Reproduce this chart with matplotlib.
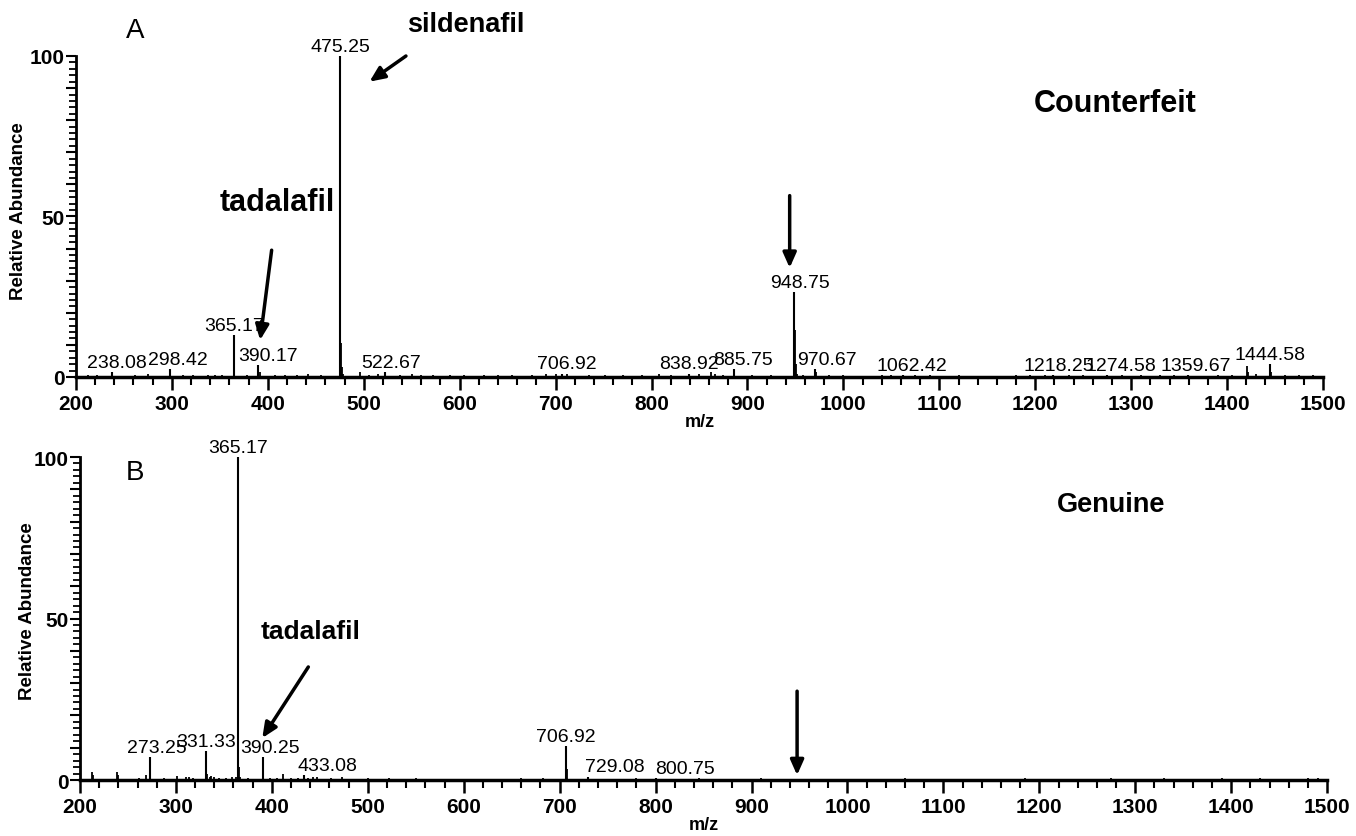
import numpy as np
import matplotlib
matplotlib.use("Agg")
import matplotlib.pyplot as plt
from matplotlib.ticker import MultipleLocator, FuncFormatter

plt.rcParams['font.family'] = ['Liberation Sans', 'DejaVu Sans']

# panel A (counterfeit): labelled peaks
a_mz = [238.08, 298.42, 365.17, 390.17, 475.25, 522.67, 706.92, 838.92, 885.75,
        948.75, 970.67, 1062.42, 1218.25, 1274.58, 1359.67, 1444.58]
a_int = [1.5, 2.5, 13.0, 3.7, 100.0, 1.5, 1.0, 1.0, 2.5,
         26.5, 2.5, 0.5, 0.5, 0.5, 0.5, 4.0]
a_labels = ["238.08", "298.42", "365.17", "390.17", "475.25", "522.67", "706.92", "838.92",
            "885.75", "948.75", "970.67", "1062.42", "1218.25", "1274.58", "1359.67", "1444.58"]
# panel A: unlabelled minor peaks
a_minor_mz = [213, 222, 262, 275, 312, 322, 338, 345, 352, 378, 392, 408, 418, 430, 442,
              455, 476.25, 477.25, 478, 496, 505, 515, 538, 550, 560, 572, 590, 605, 625,
              640, 655, 675, 690, 700, 712, 735, 752, 770, 790, 808, 820, 850, 862, 866,
              875, 905, 925, 949.75, 950.75, 952, 958, 971.67, 985, 1000, 1020, 1040, 1050,
              1075, 1090, 1120, 1150, 1180, 1195, 1210, 1235, 1250, 1265, 1290, 1310, 1330,
              1345, 1375, 1390, 1405, 1421, 1422, 1430, 1445.58, 1460, 1475, 1490]
a_minor_int = [0.5, 0.5, 0.5, 0.8, 0.5, 0.6, 0.5, 0.5, 0.5, 0.7, 1.5, 0.5, 0.6, 0.6, 0.8,
               0.5, 10.5, 3.0, 1.0, 1.5, 0.5, 0.8, 0.5, 0.8, 0.6, 0.6, 0.5, 0.5, 0.5,
               0.5, 0.5, 0.6, 0.8, 1.0, 0.8, 0.6, 0.5, 0.5, 0.6, 0.8, 0.7, 0.8, 1.5, 1.0,
               0.6, 0.5, 0.5, 14.5, 4.0, 1.0, 0.6, 1.5, 0.5, 0.6, 0.4, 0.5, 0.6,
               0.5, 0.5, 0.5, 0.4, 0.5, 0.6, 0.6, 0.5, 0.5, 0.4, 0.5, 0.5, 0.5,
               0.6, 0.4, 0.5, 0.6, 3.3, 1.5, 0.8, 1.5, 0.6, 0.5, 0.5]

# panel B (genuine): labelled peaks
b_mz = [273.25, 331.33, 365.17, 390.25, 433.08, 706.92, 729.08, 800.75]
b_int = [7.0, 9.0, 100.0, 7.0, 1.5, 10.5, 1.0, 0.6]
b_labels = ["273.25", "331.33", "365.17", "390.25", "433.08", "706.92", "729.08", "800.75"]
# panel B: unlabelled minor peaks
b_minor_mz = [213, 214, 239, 240, 262, 269, 288, 301, 310, 314, 318, 332.33, 335, 337, 340,
              345, 352, 358, 363, 366.17, 367, 375, 391.25, 398, 405, 412, 420, 427, 438,
              443, 447, 462, 473, 500, 522, 550, 580, 620, 660, 683, 707.92, 740, 760, 780,
              845, 910, 960, 1010, 1060, 1110, 1185, 1220, 1250, 1275, 1330, 1340, 1390,
              1410, 1430, 1450, 1480, 1490]
b_minor_int = [2.5, 1.5, 2.5, 1.5, 0.5, 1.5, 0.5, 1.2, 0.8, 0.8, 0.6, 2.0, 1.0, 1.2, 0.8,
               0.6, 0.6, 0.8, 1.0, 4.0, 1.0, 0.5, 1.5, 0.5, 0.5, 2.0, 0.7, 0.6, 0.6,
               1.0, 0.8, 0.5, 1.0, 0.5, 0.6, 0.5, 0.4, 0.3, 0.5, 0.6, 3.5, 0.4, 0.4, 0.5,
               0.6, 0.5, 0.3, 0.3, 0.5, 0.3, 0.5, 0.4, 0.4, 0.5, 0.5, 0.4, 0.6,
               0.4, 0.5, 0.4, 0.5, 0.5]

# label x shifts (to mimic the instrument software placement)
a_shift = {"238.08": 5, "298.42": 8, "390.17": 10, "522.67": 6, "706.92": 5,
           "885.75": 10, "948.75": 6, "970.67": 12, "1062.42": 9, "1218.25": 6,
           "1274.58": 15, "1359.67": 8}
b_shift = {"273.25": 7, "390.25": 8, "433.08": 25, "729.08": 28, "800.75": 30}


def style_axes(ax, ylab_xy):
    ax.set_xlim(200, 1500)
    ax.set_ylim(0, 100)
    ax.spines['top'].set_visible(False)
    ax.spines['right'].set_visible(False)
    ax.spines['left'].set_linewidth(2)
    ax.spines['bottom'].set_linewidth(2.5)
    ax.xaxis.set_major_locator(MultipleLocator(100))
    ax.xaxis.set_minor_locator(MultipleLocator(20))
    ax.yaxis.set_major_locator(MultipleLocator(10))
    ax.yaxis.set_minor_locator(MultipleLocator(2))
    ax.yaxis.set_major_formatter(FuncFormatter(lambda v, p: "%d" % v if v % 50 == 0 else ""))
    ax.tick_params(axis='both', which='major', labelsize=15)
    ax.tick_params(axis='x', which='major', length=9, width=1.8, direction='out', pad=3)
    ax.tick_params(axis='x', which='minor', length=6, width=1.5, direction='out')
    ax.tick_params(axis='y', which='major', length=7, width=1.5, direction='out', pad=1)
    ax.tick_params(axis='y', which='minor', length=5, width=1.3, direction='out')
    for lab in ax.get_xticklabels() + ax.get_yticklabels():
        lab.set_fontweight('bold')
    ax.set_xlabel("m/z", fontsize=13, fontweight='bold', labelpad=0)
    ax.set_ylabel("Relative Abundance", fontsize=13.5, fontweight='bold')
    ax.yaxis.set_label_coords(*ylab_xy)


def draw_spectrum(ax, mz, inten, labels, minor_mz, minor_int, shift):
    ax.vlines(minor_mz, 0, minor_int, color='black', lw=1.3, clip_on=False)
    ax.vlines(mz, 0, inten, color='black', lw=1.5, clip_on=False)
    for m, v, t in zip(mz, inten, labels):
        ax.text(m + shift.get(t, 0), v + 0.4, t, ha='center', va='bottom',
                fontsize=14, clip_on=False)


def arrow(ax, x0, y0, x1, y1):
    ax.annotate("", xy=(x1, y1), xytext=(x0, y0), annotation_clip=False,
                arrowprops=dict(arrowstyle='-|>,head_length=0.9,head_width=0.4',
                                color='black', lw=2.5, shrinkA=0, shrinkB=0))


fig = plt.figure(figsize=(13.56, 8.37), dpi=100)
ax1 = fig.add_axes([0.056, 0.5484, 0.9197, 0.3835])
ax2 = fig.add_axes([0.059, 0.0669, 0.9197, 0.3859])

# panel A
draw_spectrum(ax1, a_mz, a_int, a_labels, a_minor_mz, a_minor_int, a_shift)
style_axes(ax1, (-0.039, 0.52))
ax1.text(262, 108, "A", fontsize=20, ha='center', va='center', clip_on=False)
ax1.text(606, 110, "sildenafil", fontsize=19.5, fontweight='bold', ha='center', va='center', clip_on=False)
arrow(ax1, 544, 100, 506, 92)
ax1.text(1283, 85.5, "Counterfeit", fontsize=22, fontweight='bold', ha='center', va='center')
ax1.text(410, 54.5, "tadalafil", fontsize=22, fontweight='bold', ha='center', va='center')
arrow(ax1, 404, 39.5, 392, 11.5)
arrow(ax1, 944, 56.5, 944, 34)

# panel B
draw_spectrum(ax2, b_mz, b_int, b_labels, b_minor_mz, b_minor_int, b_shift)
style_axes(ax2, (-0.035, 0.525))
ax2.text(257, 95.5, "B", fontsize=20, ha='center', va='center')
ax2.text(1275, 85.5, "Genuine", fontsize=19.5, fontweight='bold', ha='center', va='center')
ax2.text(440, 46, "tadalafil", fontsize=19, fontweight='bold', ha='center', va='center')
arrow(ax2, 438, 35, 390, 13)
arrow(ax2, 947.5, 27.5, 947.5, 1.5)

fig.savefig("out.png", dpi=100)
